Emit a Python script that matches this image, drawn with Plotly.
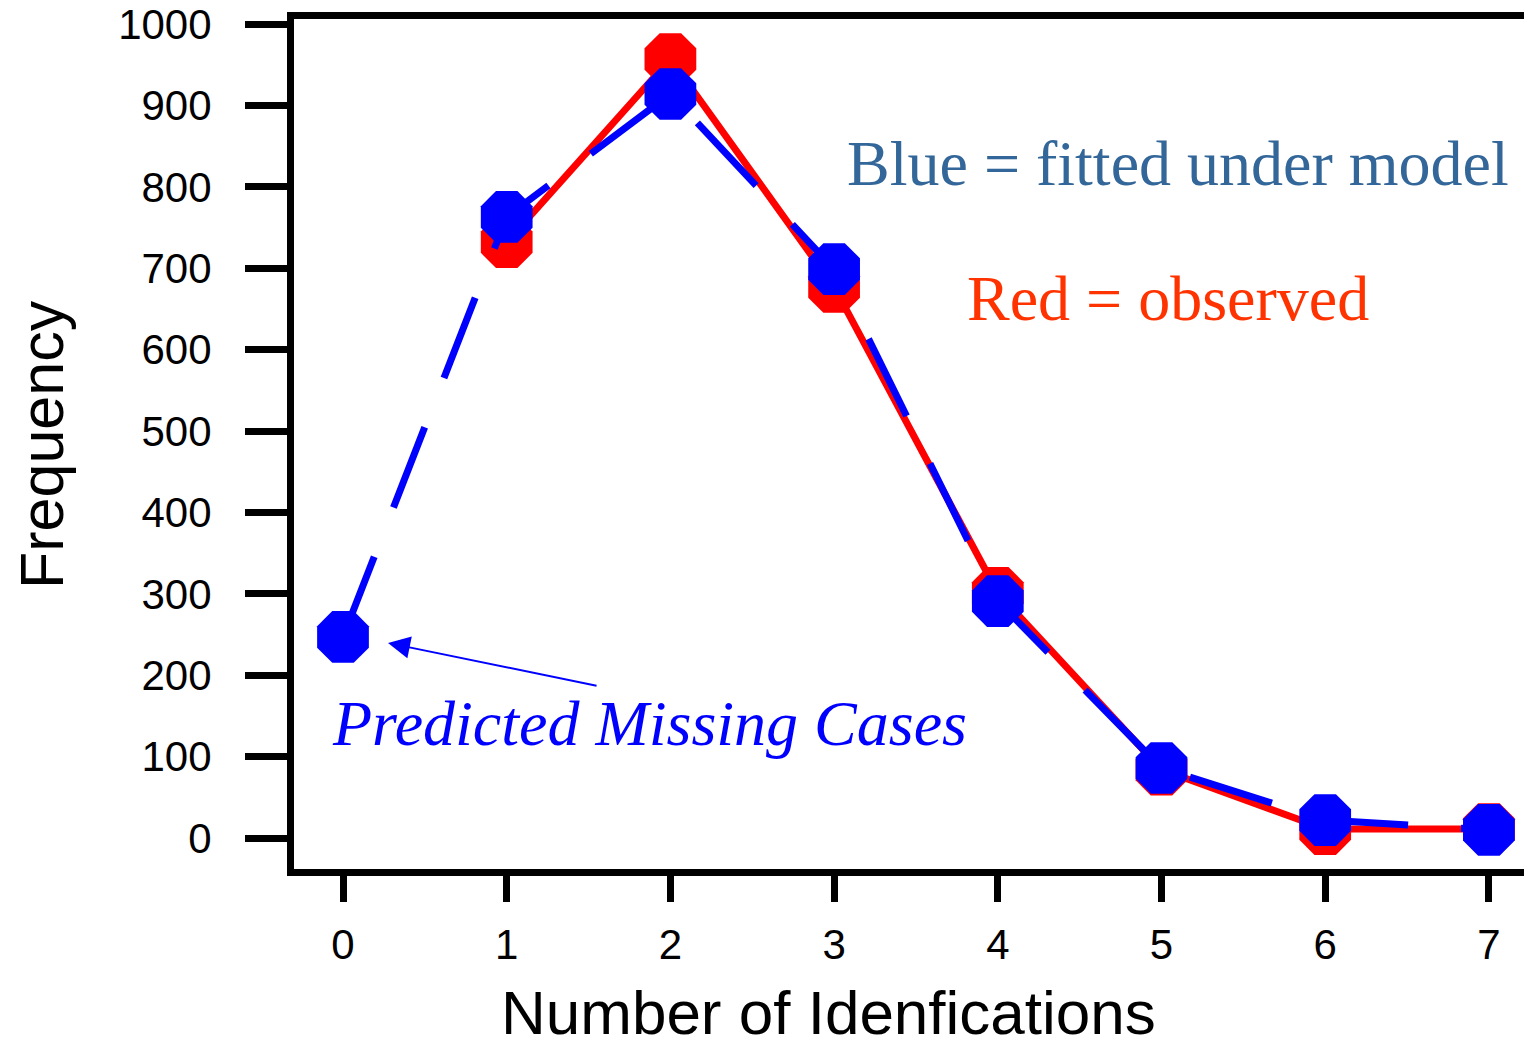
import plotly.graph_objects as go

# ---- data ----
x_fitted = [0, 1, 2, 3, 4, 5, 6, 7]
fitted = [247, 763, 914, 699, 291, 86, 22, 10]
x_observed = [1, 2, 3, 4, 5, 6, 7]
observed = [732, 957, 677, 301, 84, 11, 11]
y_ticks = [0, 100, 200, 300, 400, 500, 600, 700, 800, 900, 1000]
x_ticks = [0, 1, 2, 3, 4, 5, 6, 7]

OFF = 8  # page body margin
W, H = 1532 - OFF, 1039 - OFF
L, R, T, B = 294, 1532, 19, 869  # in screen pixels

# screen pixel -> data mapping used for ranges (x: 343 + 163.7*x ; y: 838 - 0.814*y)
x0 = (L - 343) / 163.7
x1 = (R - 343) / 163.7
y0 = (838 - B) / 0.814
y1 = (838 - T) / 0.814


def px(xp):
    return (xp - L) / (R - L)


def py(yp):
    return (B - yp) / (B - T)


fig = go.Figure()
fig.add_trace(go.Scatter(
    x=x_observed, y=observed, mode="lines+markers",
    line=dict(color="#FF0000", width=7),
    marker=dict(symbol="octagon", size=56, color="#FF0000", line=dict(width=0)),
    showlegend=False, cliponaxis=False,
))
fig.add_trace(go.Scatter(
    x=x_fitted, y=fitted, mode="lines+markers",
    line=dict(color="#0000FF", width=7, dash="86px,53px"),
    marker=dict(symbol="octagon", size=56, color="#0000FF", line=dict(width=0)),
    showlegend=False, cliponaxis=False,
))

fig.update_layout(
    width=W, height=H,
    margin=dict(l=L - OFF, r=1532 - R, t=T - OFF, b=1039 - B, pad=0, autoexpand=False),
    paper_bgcolor="white", plot_bgcolor="white",
    font=dict(family="Liberation Sans, Arial, sans-serif", color="black"),
)
fig.update_xaxes(
    range=[x0, x1], tickmode="array", tickvals=x_ticks,
    ticktext=[str(v) for v in x_ticks],
    showgrid=False, zeroline=False, automargin=False,
    showline=True, linecolor="black", linewidth=7, mirror=True,
    ticks="outside", ticklen=26, tickwidth=7, tickcolor="black",
    tickfont=dict(size=42, family="Liberation Sans, Arial, sans-serif"),
    ticklabelstandoff=7, ticklabeloverflow="allow",
)
fig.update_yaxes(
    range=[y0, y1], tickmode="array", tickvals=y_ticks,
    ticktext=[str(v) for v in y_ticks],
    showgrid=False, zeroline=False, automargin=False,
    showline=True, linecolor="black", linewidth=7, mirror=False,
    ticks="outside", ticklen=42, tickwidth=7, tickcolor="black",
    tickfont=dict(size=42, family="Liberation Sans, Arial, sans-serif"),
    ticklabelstandoff=25, ticklabeloverflow="allow",
)

serif = "Liberation Serif, Times New Roman, serif"
annotations = [
    dict(text="Blue = fitted under model", x=px(845), y=py(163), xref="paper", yref="paper",
         xanchor="left", yanchor="middle", showarrow=False,
         font=dict(family=serif, size=64, color="#336699")),
    dict(text="Red = observed", x=px(965), y=py(298), xref="paper", yref="paper",
         xanchor="left", yanchor="middle", showarrow=False,
         font=dict(family=serif, size=64, color="#FF3300")),
    dict(text="<i>Predicted Missing Cases</i>", x=px(330), y=py(723), xref="paper", yref="paper",
         xanchor="left", yanchor="middle", showarrow=False,
         font=dict(family=serif, size=64, color="#0000FF")),
    dict(text="", x=0.275, y=239.6, xref="x", yref="y",
         ax=1.558, ay=186.7, axref="x", ayref="y",
         showarrow=True, arrowhead=2, arrowsize=2.2, arrowwidth=2, arrowcolor="#0000FF",
         standoff=0, startstandoff=0),
    dict(text="Frequency", x=px(42), y=py(445), xref="paper", yref="paper",
         xanchor="center", yanchor="middle", textangle=-90, showarrow=False,
         font=dict(family="Liberation Sans, Arial, sans-serif", size=61, color="black")),
    dict(text="Number of Idenfications", x=px(828), y=py(1012), xref="paper", yref="paper",
         xanchor="center", yanchor="middle", showarrow=False,
         font=dict(family="Liberation Sans, Arial, sans-serif", size=62, color="black")),
]
fig.update_layout(annotations=annotations)

fig.write_html("out.html")
